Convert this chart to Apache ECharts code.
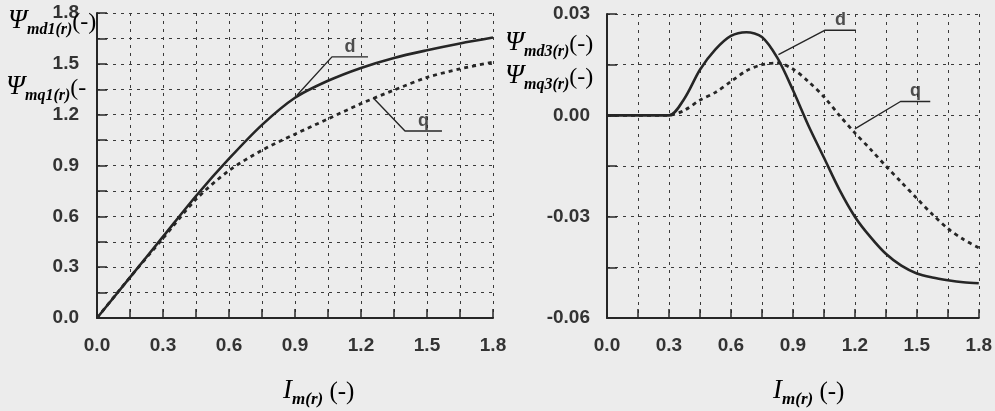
<!DOCTYPE html>
<html>
<head>
<meta charset="utf-8">
<script src="https://cdn.jsdelivr.net/npm/echarts@6/dist/echarts.min.js"></script>
<style>
html,body{margin:0;padding:0;background:#ececec;}
#c{width:995px;height:411px;}
</style>
</head>
<body>
<div id="c"></div>
<script>
// ---- data ----
var xLeft  = [0, 0.15, 0.3, 0.45, 0.6, 0.75, 0.9, 1.05, 1.2, 1.35, 1.5, 1.65, 1.8];
var dLeft  = [0, 0.24, 0.48, 0.72, 0.94, 1.14, 1.30, 1.40, 1.476, 1.535, 1.58, 1.62, 1.655];
var qLeft  = [0, 0.24, 0.47, 0.70, 0.87, 0.99, 1.085, 1.175, 1.265, 1.345, 1.42, 1.47, 1.51];

var xRight = [0, 0.15, 0.3, 0.375, 0.45, 0.525, 0.6, 0.675, 0.75, 0.825, 0.9, 0.975, 1.05, 1.125, 1.2, 1.275, 1.35, 1.425, 1.5, 1.575, 1.65, 1.725, 1.8];
var dRight = [0, 0, 0, 0.005, 0.0135, 0.0195, 0.0235, 0.0246, 0.0232, 0.017, 0.0075, -0.003, -0.0125, -0.022, -0.030, -0.036, -0.041, -0.0445, -0.0468, -0.0480, -0.0488, -0.0494, -0.0497];
var qRight = [0, 0, 0, 0.0015, 0.0045, 0.0068, 0.0100, 0.0132, 0.0150, 0.0155, 0.0137, 0.0100, 0.0055, 0.0000, -0.0052, -0.0100, -0.0150, -0.0198, -0.0246, -0.0293, -0.0335, -0.0367, -0.0392];

var xTicksLabel = ['0.0','0.3','0.6','0.9','1.2','1.5','1.8'];
var yLeftLabels = ['0.0','0.3','0.6','0.9','1.2','1.5','1.8'];
var yRightLabels = ['-0.06','-0.03','0.00','0.03'];

// annotation leader lines (data units): [curve point, elbow, end]
var annLeftD  = [[0.909, 1.315], [1.068, 1.541], [1.232, 1.541]];
var annLeftQ  = [[1.255, 1.30], [1.40, 1.104], [1.568, 1.104]];
var annRightD = [[0.83, 0.0180], [1.056, 0.0252], [1.205, 0.0252]];
var annRightQ = [[1.20, -0.0040], [1.421, 0.0041], [1.565, 0.0041]];

function pairs(xs, ys){ return xs.map(function(x,i){ return [x, ys[i]]; }); }

var chart = echarts.init(document.getElementById('c'));
var ink = '#262626';
var gridLine = {show:true, lineStyle:{color:'#3a3a3a', width:1, type:[3,5]}};
var labelFont = {color:'#333', fontFamily:'Liberation Sans', fontWeight:'bold', fontSize:19};

function xAx(gi){
  return {
    type:'value', gridIndex:gi, min:0, max:1.8, interval:0.15,
    axisLine:{show:true, onZero:false, lineStyle:{color:ink, width:2}},
    axisTick:{show:true, inside:true, length:9, lineStyle:{color:ink, width:1.5}},
    splitLine:gridLine,
    axisLabel:Object.assign({margin:18, formatter:function(v){
      var k = Math.round(v/0.15); return k%2===0 ? xTicksLabel[k/2] : '';
    }}, labelFont)
  };
}

var option = {
  backgroundColor:'#ececec',
  animation:false,
  grid:[
    {left:97, top:13, width:396, height:305},
    {left:607, top:14, width:375, height:304}
  ],
  xAxis:[xAx(0), xAx(1)],
  yAxis:[
    {type:'value', gridIndex:0, min:0, max:1.8, interval:0.15,
     axisLine:{show:true, onZero:false, lineStyle:{color:ink, width:2}},
     axisTick:{show:true, inside:true, length:10, lineStyle:{color:ink, width:1.5}},
     splitLine:gridLine,
     axisLabel:Object.assign({margin:18, formatter:function(v){
       var k = Math.round(v/0.15); return k%2===0 ? yLeftLabels[k/2] : '';
     }}, labelFont)},
    {type:'value', gridIndex:1, min:-0.06, max:0.03, interval:0.015,
     axisLine:{show:true, onZero:false, lineStyle:{color:ink, width:2}},
     axisTick:{show:true, inside:true, length:10, lineStyle:{color:ink, width:1.5}},
     splitLine:gridLine,
     axisLabel:Object.assign({margin:17, formatter:function(v){
       var k = Math.round((v+0.06)/0.015); return k%2===0 ? yRightLabels[k/2] : '';
     }}, labelFont)}
  ],
  series:[]
};

function curve(gi, data, dashed){
  return {type:'line', xAxisIndex:gi, yAxisIndex:gi, data:data, smooth:0.3,
    showSymbol:false, symbol:'none', z:5,
    lineStyle:{color:ink, width:dashed?2.8:2.6, type:dashed?[4,4]:'solid'}};
}
function leader(gi, pts, txt){
  return [{type:'line', xAxisIndex:gi, yAxisIndex:gi, data:pts, symbol:'none', smooth:false, z:6,
    lineStyle:{color:ink, width:1.4}},
    {type:'scatter', xAxisIndex:gi, yAxisIndex:gi, symbolSize:0, z:7,
     data:[[ (pts[1][0]+pts[2][0])/2, pts[2][1] ]],
     label:{show:true, position:'top', distance:1, formatter:txt, color:ink,
       fontFamily:'Liberation Sans', fontWeight:'bold', fontSize:18}}];
}

option.series.push(curve(0, pairs(xLeft, dLeft), false));
option.series.push(curve(0, pairs(xLeft, qLeft), true));
option.series.push(curve(1, pairs(xRight, dRight), false));
option.series.push(curve(1, pairs(xRight, qRight), true));
option.series = option.series.concat(leader(0, annLeftD, 'd'), leader(0, annLeftQ, 'q'),
                                     leader(1, annRightD, 'd'), leader(1, annRightQ, 'q'));

var psiRich = {
  psi:{fontFamily:'Liberation Serif', fontStyle:'italic', fontSize:27, color:'#2a2a2a', verticalAlign:'bottom'},
  sub:{fontFamily:'Liberation Serif', fontStyle:'italic', fontWeight:'bold', fontSize:16, color:'#2a2a2a', verticalAlign:'bottom', padding:[0,0,-3,0]},
  p:{fontFamily:'Liberation Serif', fontSize:24, color:'#2a2a2a', verticalAlign:'bottom'}
};
var iRich = {
  i:{fontFamily:'Liberation Serif', fontStyle:'italic', fontSize:27, color:'#2a2a2a', verticalAlign:'bottom'},
  sub:{fontFamily:'Liberation Serif', fontStyle:'italic', fontWeight:'bold', fontSize:17, color:'#2a2a2a', verticalAlign:'bottom', padding:[0,0,-4,0]},
  p:{fontFamily:'Liberation Serif', fontSize:25, color:'#2a2a2a', verticalAlign:'bottom'}
};
function txt(x, y, t, rich){
  return {type:'text', x:x, y:y, z:10, style:{text:t, rich:rich, align:'left', verticalAlign:'middle'}};
}
option.graphic = [
  txt(8, 21, '{psi|Ψ}{sub|md1(r)}{p|(-)}', psiRich),
  txt(6, 87, '{psi|Ψ}{sub|mq1(r)}{p|(-}', psiRich),
  txt(505, 43, '{psi|Ψ}{sub|md3(r)}{p|(-)}', psiRich),
  txt(505, 76, '{psi|Ψ}{sub|mq3(r)}{p|(-)}', psiRich),
  txt(283, 391, '{i|I}{sub|m(r)}{p| (-)}', iRich),
  txt(773, 391, '{i|I}{sub|m(r)}{p| (-)}', iRich)
];

chart.setOption(option);
</script>
</body>
</html>
